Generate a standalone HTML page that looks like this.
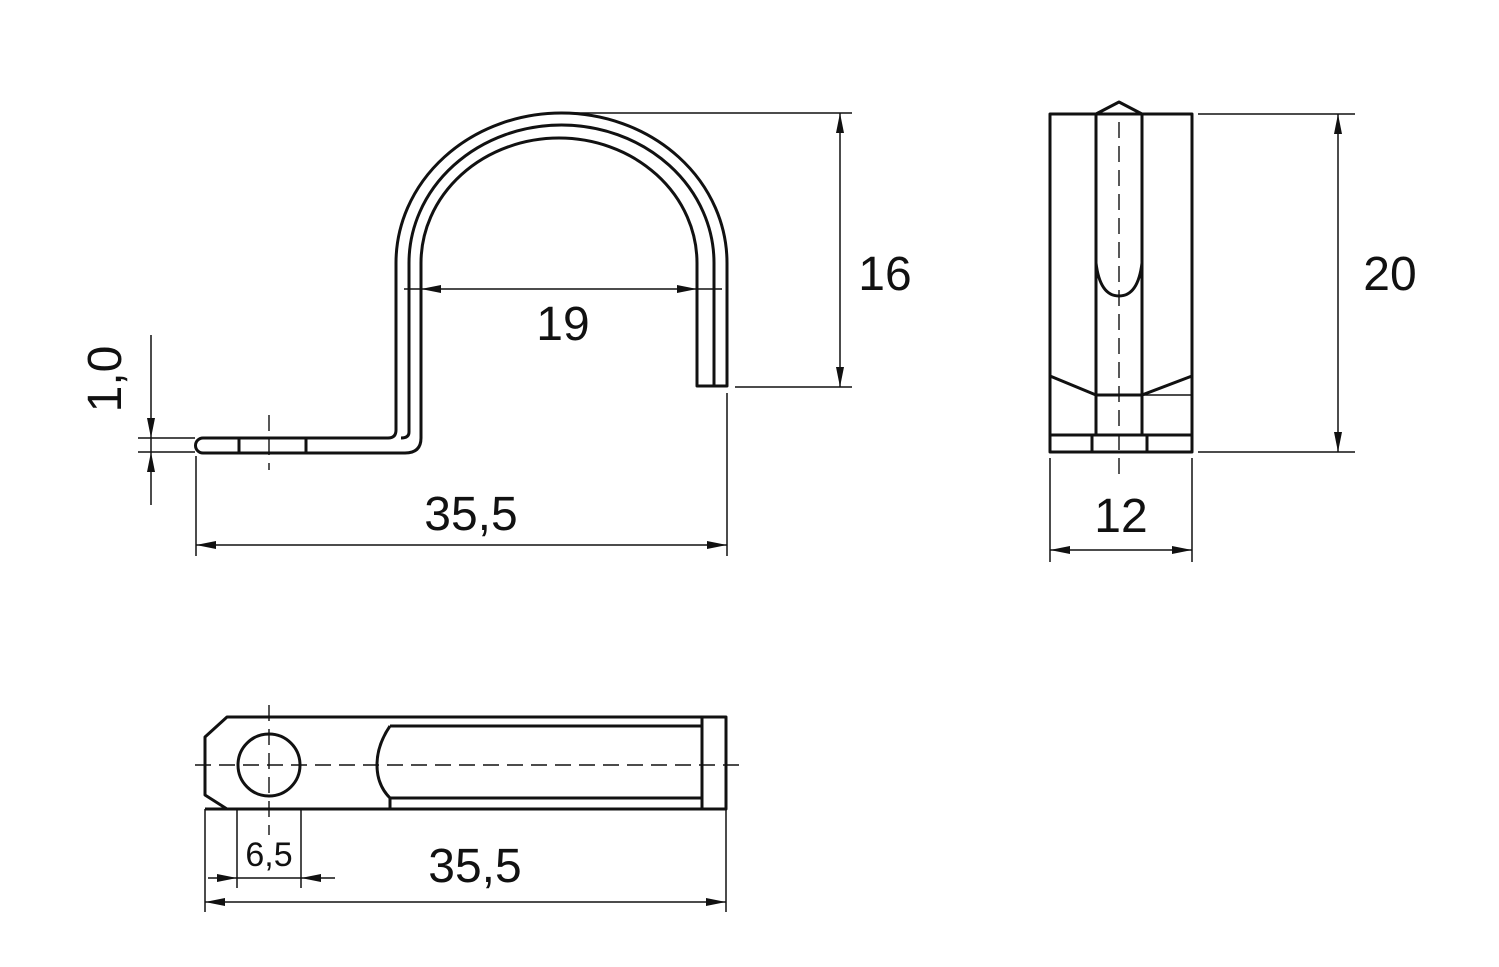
<!DOCTYPE html>
<html><head><meta charset="utf-8"><style>
html,body{margin:0;padding:0;background:#fff;}
svg{display:block;}
text{font-family:"Liberation Sans",sans-serif;fill:#111;}
</style></head><body>
<svg width="1499" height="967" viewBox="0 0 1499 967" xmlns="http://www.w3.org/2000/svg">
<defs>
<marker id="a" viewBox="0 0 20 8" refX="20" refY="4" markerWidth="20" markerHeight="8" markerUnits="userSpaceOnUse" orient="auto-start-reverse"><path d="M0,0 L20,4 L0,8 z" fill="#111"/></marker>
</defs>
<g fill="none" stroke="#111" stroke-width="3" stroke-linejoin="round">
<!-- main clip -->
<path d="M396,430 L396,263 A165.5,150 0 0 1 727,263 L727,386 L697,386 L697,263"/>
<path d="M409,432 L409,263 A152.5,138 0 0 1 714,263 L714,386"/>
<path d="M421,438 L421,263 A138,125 0 0 1 697,263"/>
<path d="M396,430 Q396,438 388,438 L203,438 A7.5,7.5 0 0 0 203,453 L405,453 Q421,453 421,438"/>
<path d="M409,432 Q409,438 401,438"/>
<line x1="239" y1="438" x2="239" y2="453"/>
<line x1="306" y1="438" x2="306" y2="453"/>
<!-- side view -->
<rect x="1050" y="114" width="142" height="338"/>
<path d="M1096,435 L1096,114 L1142,114 L1142,435"/>
<path d="M1096,114 L1119,102 L1142,114"/>
<path d="M1096,263 Q1100,296 1119,296 Q1138,296 1142,263"/>
<line x1="1050" y1="435" x2="1192" y2="435"/>
<line x1="1092" y1="435" x2="1092" y2="452"/>
<line x1="1147" y1="435" x2="1147" y2="452"/>
<path d="M1050,376 L1096,395 L1142,395 L1192,376"/>
<line x1="1142" y1="395" x2="1192" y2="395" stroke-width="1.5"/>
<!-- bottom view -->
<path d="M227,717 L726,717 L726,809 L227,809 L205,795 L205,737 Z"/>
<line x1="205" y1="809" x2="227" y2="809"/>
<circle cx="269" cy="765" r="31"/>
<path d="M390,726 L702,726 M390,798 L702,798 M390,726 Q377,745 377,765 Q377,785 390,798 L390,809 M702,717 L702,809"/>
</g>
<g fill="none" stroke="#111" stroke-width="1.4" stroke-dasharray="16,8">
<line x1="269" y1="415" x2="269" y2="470"/>
<line x1="1119" y1="122" x2="1119" y2="480"/>
<line x1="195" y1="765" x2="742" y2="765"/>
<line x1="269" y1="705" x2="269" y2="835"/>
</g>
<g fill="none" stroke="#111" stroke-width="1.5">
<!-- 19 -->
<line x1="404" y1="289" x2="421" y2="289"/>
<line x1="421" y1="289" x2="697" y2="289" marker-start="url(#a)" marker-end="url(#a)"/>
<line x1="697" y1="289" x2="722" y2="289"/>
<!-- 16 -->
<line x1="561" y1="113" x2="852" y2="113"/>
<line x1="735" y1="387" x2="852" y2="387"/>
<line x1="840" y1="113" x2="840" y2="387" marker-start="url(#a)" marker-end="url(#a)"/>
<!-- 35,5 top -->
<line x1="196" y1="456" x2="196" y2="556"/>
<line x1="727" y1="393" x2="727" y2="556"/>
<line x1="196" y1="545" x2="727" y2="545" marker-start="url(#a)" marker-end="url(#a)"/>
<!-- 1,0 -->
<line x1="138" y1="438" x2="195" y2="438"/>
<line x1="138" y1="452" x2="195" y2="452"/>
<line x1="151" y1="335" x2="151" y2="438" marker-end="url(#a)"/>
<line x1="151" y1="505" x2="151" y2="452" marker-end="url(#a)"/>
<line x1="151" y1="438" x2="151" y2="452"/>
<!-- 20 -->
<line x1="1198" y1="114" x2="1355" y2="114"/>
<line x1="1198" y1="452" x2="1355" y2="452"/>
<line x1="1338" y1="114" x2="1338" y2="452" marker-start="url(#a)" marker-end="url(#a)"/>
<!-- 12 -->
<line x1="1050" y1="458" x2="1050" y2="562"/>
<line x1="1192" y1="458" x2="1192" y2="562"/>
<line x1="1050" y1="550" x2="1192" y2="550" marker-start="url(#a)" marker-end="url(#a)"/>
<!-- 6,5 -->
<line x1="237" y1="809" x2="237" y2="888"/>
<line x1="301" y1="809" x2="301" y2="888"/>
<line x1="208" y1="878" x2="237" y2="878" marker-end="url(#a)"/>
<line x1="335" y1="878" x2="301" y2="878" marker-end="url(#a)"/>
<line x1="237" y1="878" x2="301" y2="878"/>
<!-- 35,5 bottom -->
<line x1="205" y1="809" x2="205" y2="912"/>
<line x1="726" y1="809" x2="726" y2="912"/>
<line x1="205" y1="902" x2="726" y2="902" marker-start="url(#a)" marker-end="url(#a)"/>
</g>
<g font-size="48" text-anchor="middle">
<text x="563" y="340">19</text>
<text x="885" y="290">16</text>
<text x="471" y="530">35,5</text>
<text x="1390" y="290">20</text>
<text x="1121" y="532">12</text>
<text x="475" y="882">35,5</text>
<text x="269" y="866" font-size="34">6,5</text>
<text x="0" y="0" transform="translate(121,379) rotate(-90)">1,0</text>
</g>
</svg>
</body></html>
